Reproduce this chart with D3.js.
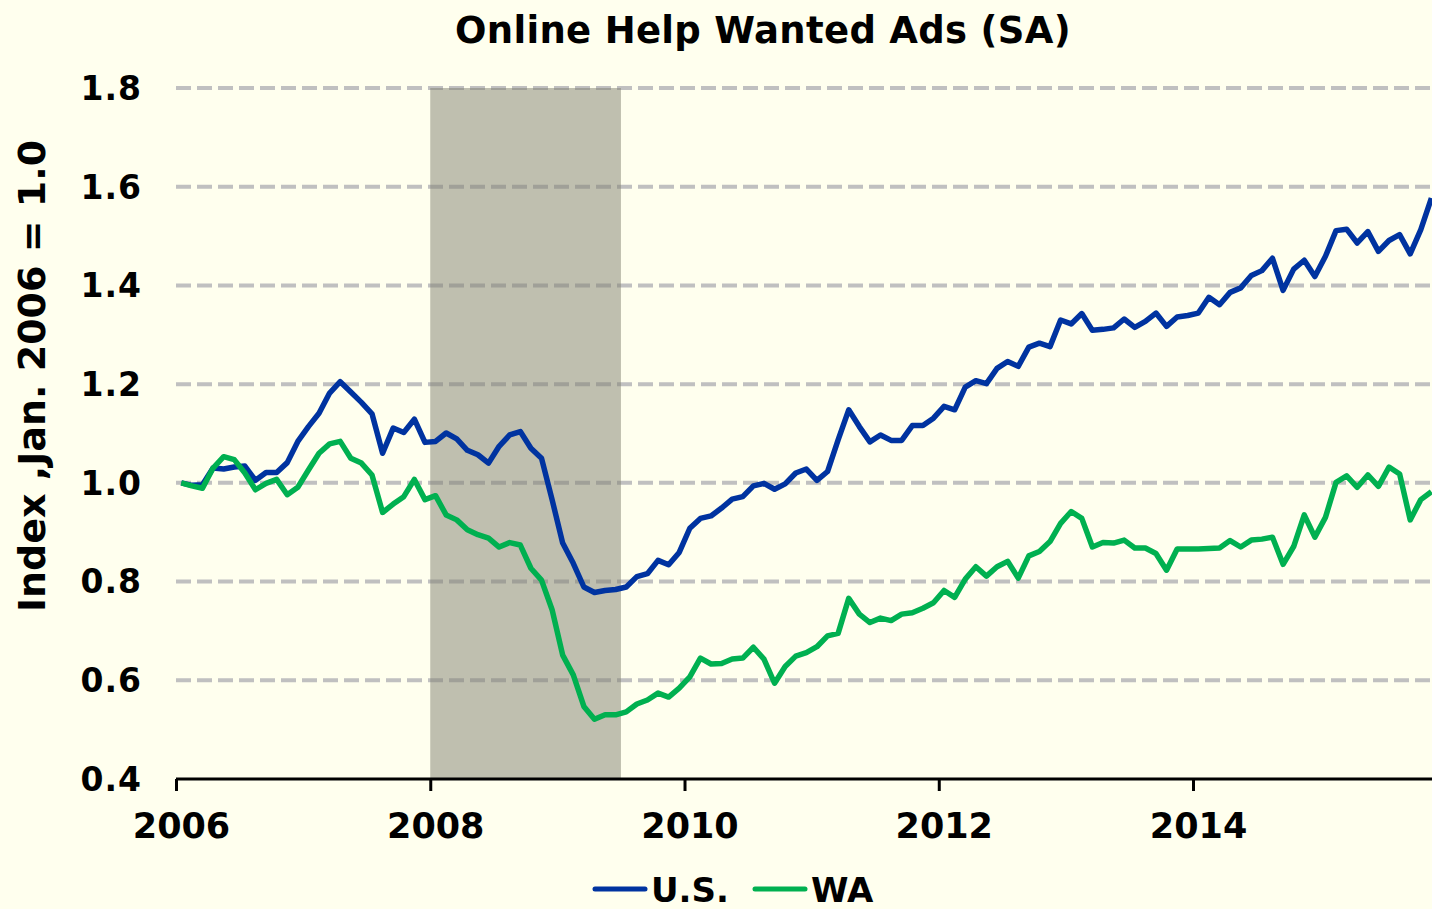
<!DOCTYPE html>
<html>
<head>
<meta charset="utf-8">
<script src="https://cdn.jsdelivr.net/npm/d3@7"></script>
<style>
  html, body { margin: 0; padding: 0; background: #ffffee; }
  svg { display: block; font-family: "DejaVu Sans", Verdana, sans-serif; font-weight: bold; }
</style>
</head>
<body>
<svg id="chart" width="1432" height="909"></svg>
<script>
const title = "Online Help Wanted Ads (SA)";
const yAxisTitle = "Index ,Jan. 2006 = 1.0";
const seriesNames = ["U.S.", "WA"];
const startYear = 2006;
const monthCount = 119; // Jan 2006 .. Nov 2015
const yTicks = [0.4, 0.6, 0.8, 1.0, 1.2, 1.4, 1.6, 1.8];
const xTicks = [2006, 2008, 2010, 2012, 2014];
const recession = [2008.0, 2009.5];

const usValues = [
  1.000, 0.995, 0.996, 1.030, 1.028, 1.032, 1.034, 1.005, 1.021, 1.021, 1.041, 1.084,
  1.114, 1.141, 1.182, 1.205, 1.184, 1.163, 1.140, 1.060, 1.111, 1.102, 1.129, 1.082,
  1.084, 1.101, 1.089, 1.066, 1.057, 1.040, 1.074, 1.097, 1.104, 1.070, 1.050, 0.966,
  0.878, 0.837, 0.789, 0.778, 0.782, 0.784, 0.789, 0.810, 0.816, 0.843, 0.834, 0.859,
  0.908, 0.928, 0.933, 0.949, 0.967, 0.972, 0.994, 0.999, 0.987, 0.998, 1.020, 1.028,
  1.005, 1.023, 1.087, 1.148, 1.114, 1.083, 1.097, 1.086, 1.086, 1.116, 1.116, 1.131,
  1.155, 1.148, 1.194, 1.207, 1.201, 1.232, 1.246, 1.236, 1.275, 1.283, 1.276, 1.330,
  1.322, 1.343, 1.309, 1.311, 1.314, 1.332, 1.315, 1.327, 1.344, 1.317, 1.336, 1.339,
  1.344, 1.376, 1.361, 1.386, 1.395, 1.420, 1.430, 1.455, 1.390, 1.433, 1.451, 1.418,
  1.459, 1.511, 1.514, 1.486, 1.509, 1.469, 1.491, 1.503, 1.464, 1.513, 1.577
];

const waValues = [
  1.000, 0.994, 0.989, 1.030, 1.053, 1.047, 1.020, 0.986, 0.999, 1.007, 0.976, 0.991,
  1.026, 1.060, 1.079, 1.084, 1.050, 1.040, 1.016, 0.940, 0.957, 0.972, 1.007, 0.966,
  0.974, 0.935, 0.925, 0.905, 0.895, 0.888, 0.870, 0.879, 0.874, 0.827, 0.803, 0.743,
  0.651, 0.611, 0.547, 0.521, 0.530, 0.530, 0.536, 0.552, 0.560, 0.574, 0.566, 0.584,
  0.607, 0.645, 0.633, 0.634, 0.643, 0.645, 0.667, 0.643, 0.594, 0.628, 0.649, 0.656,
  0.668, 0.690, 0.695, 0.766, 0.734, 0.717, 0.726, 0.721, 0.734, 0.737, 0.746, 0.757,
  0.782, 0.768, 0.805, 0.830, 0.811, 0.830, 0.841, 0.807, 0.852, 0.861, 0.881, 0.918,
  0.942, 0.928, 0.870, 0.879, 0.878, 0.884, 0.868, 0.868, 0.857, 0.823, 0.866, 0.866,
  0.866, 0.867, 0.868, 0.883, 0.870, 0.884, 0.886, 0.890, 0.835, 0.871, 0.935, 0.890,
  0.930, 1.001, 1.014, 0.991, 1.016, 0.993, 1.032, 1.018, 0.925, 0.966, 0.982
];

const colors = ["#0033a0", "#00b050"];

const svg = d3.select("#chart");
const plotLeft = 176, plotRight = 176 + 119 * 10.594, plotTop = 88, plotBottom = 779;

const x = d3.scaleLinear().domain([startYear, startYear + monthCount / 12]).range([plotLeft, plotRight]);
const y = d3.scaleLinear().domain([0.4, 1.8]).range([plotBottom, plotTop]);
const tOf = i => startYear + (i + 0.5) / 12;

svg.append("rect").attr("width", 1432).attr("height", 909).attr("fill", "#ffffee");

// grid
svg.append("g").selectAll("line").data(yTicks.filter(v => v > 0.4)).join("line")
  .attr("x1", plotLeft).attr("x2", 1432)
  .attr("y1", d => y(d)).attr("y2", d => y(d))
  .attr("stroke", "#c0c0c0").attr("stroke-width", 4).attr("stroke-dasharray", "15,6");

// recession shading
svg.append("rect")
  .attr("x", x(recession[0])).attr("width", x(recession[1]) - x(recession[0]))
  .attr("y", y(1.8)).attr("height", y(0.4) - y(1.8))
  .attr("fill", "#808070").attr("opacity", 0.5);

// y tick labels
svg.append("g").selectAll("text").data(yTicks).join("text")
  .attr("x", 142).attr("y", d => y(d)).attr("dy", "0.36em")
  .attr("text-anchor", "end").attr("font-size", 33).attr("letter-spacing", 1).attr("fill", "#000")
  .text(d => d.toFixed(1));

// x axis
const xAxis = d3.axisBottom(x).tickValues(xTicks).tickFormat(d3.format("d")).tickSize(12);
const gx = svg.append("g").attr("transform", `translate(0,${plotBottom})`).call(xAxis);
gx.select(".domain").attr("stroke", "#000").attr("stroke-width", 3).attr("d", `M${plotLeft},0H1432`);
gx.selectAll(".tick line").attr("stroke", "#000").attr("stroke-width", 3);
gx.selectAll(".tick text").attr("font-size", 35).attr("font-family", "DejaVu Sans").attr("font-weight", "bold")
  .attr("fill", "#000").attr("y", 59).attr("dy", 0).attr("dx", 5);

// lines
const line = d3.line().x((d, i) => x(tOf(i))).y(d => y(d));
[usValues, waValues].forEach((vals, k) => {
  svg.append("path").datum(vals).attr("d", line)
    .attr("fill", "none").attr("stroke", colors[k]).attr("stroke-width", 5.5)
    .attr("stroke-linejoin", "round");
});

// title
svg.append("text").attr("x", 763).attr("y", 43).attr("text-anchor", "middle")
  .attr("font-size", 37).attr("letter-spacing", 0.3).attr("fill", "#000").text(title);

// y axis title
svg.append("text").attr("transform", `translate(45,${376}) rotate(-90)`)
  .attr("text-anchor", "middle").attr("font-size", 38).attr("fill", "#000").text(yAxisTitle);

// legend
const legendX = [595, 755];
seriesNames.forEach((name, k) => {
  svg.append("line").attr("x1", legendX[k]).attr("x2", legendX[k] + 50)
    .attr("y1", 889).attr("y2", 889).attr("stroke", colors[k]).attr("stroke-width", 5)
    .attr("stroke-linecap", "round");
  svg.append("text").attr("x", legendX[k] + 56).attr("y", 902)
    .attr("font-size", 34).attr("fill", "#000").text(name);
});
</script>
</body>
</html>
